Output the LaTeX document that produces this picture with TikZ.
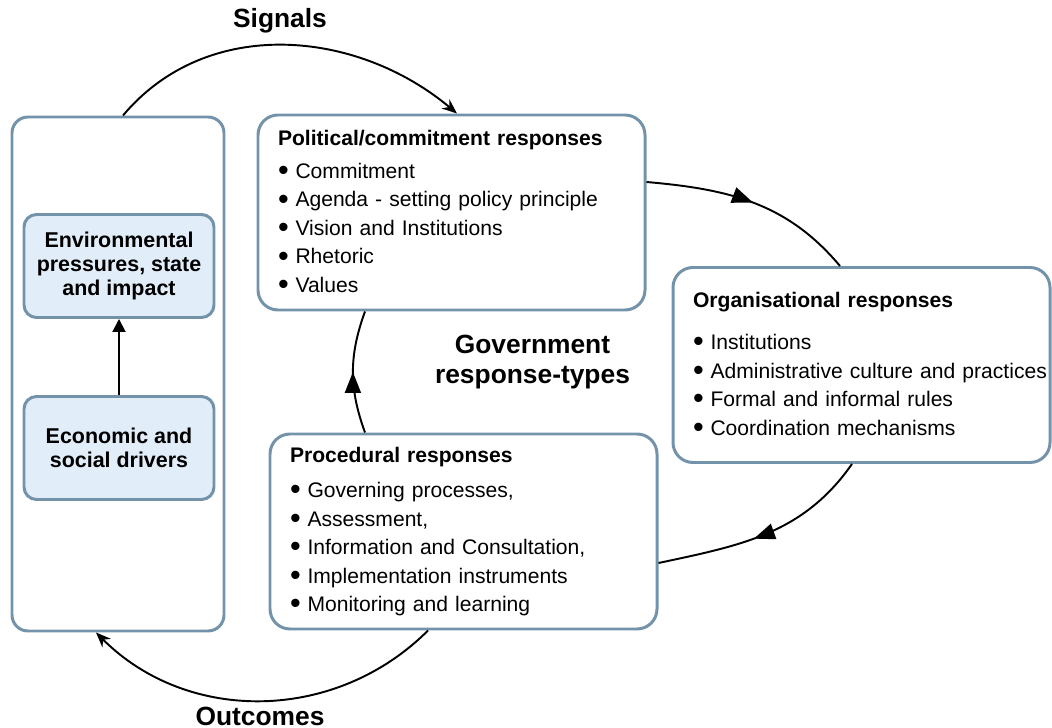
\documentclass[tikz,border=0pt]{standalone}
\usepackage{fontspec}
\setmainfont{Liberation Sans}
\usepackage{xcolor}
\usetikzlibrary{arrows.meta, decorations.markings}

\definecolor{boxline}{RGB}{115,147,171}
\definecolor{boxfill}{RGB}{225,237,248}

% bullet for the list items
\newcommand{\bul}{\makebox[0.35cm][l]{\raisebox{-0.2ex}{\scalebox{1.45}{\textbullet}}}}

\begin{document}
\begin{tikzpicture}[
    outerbox/.style={rectangle, rounded corners=0.32cm, draw=boxline, line width=1.7pt, minimum width=4.24cm, minimum height=10.28cm},
    drvbox/.style={rectangle, rounded corners=0.25cm, draw=boxline, fill=boxfill, line width=1.7pt, minimum width=3.8cm, minimum height=2.06cm, align=center, font=\fontsize{12.2}{13.6}\selectfont\bfseries},
    respbox/.style={rectangle, rounded corners=0.4cm, draw=boxline, line width=1.7pt, minimum height=3.9cm, inner xsep=0.4cm, align=left, font=\fontsize{12}{16.2}\selectfont},
    cyc/.style={line width=1.1pt, postaction={decorate}, decoration={markings, mark=at position #1 with {\arrow{Triangle[length=0.42cm, width=0.32cm]}}}},
    cyc/.default=0.5,
    feed/.style={-{Stealth[length=0.3cm, width=0.24cm]}, line width=1.1pt},
    title/.style={font=\fontsize{15}{17}\selectfont\bfseries, align=center}]
    \useasboundingbox (0,0) rectangle (21.04,-14.56);

    % drivers and state, left column
    \node[outerbox] (lb) at (2.36,-7.48) {};
    \node[drvbox] (env) at (2.38,-5.32) {Environmental\\pressures, state\\and impact};
    \node[drvbox] (eco) at (2.38,-8.96) {Economic and\\social drivers};
    \draw[-{Triangle[length=0.26cm, width=0.26cm]}, line width=1.1pt] (eco) -- (env);

    % the three response types
    \node[respbox, text width=6.94cm] (pol) at (9.03,-4.25) {\textbf{Political/commitment responses}\\[2.5pt]
        \bul Commitment\\
        \bul Agenda - setting policy principle\\
        \bul Vision and Institutions\\
        \bul Rhetoric\\
        \bul Values};
    \node[respbox, text width=6.74cm] (org) at (17.23,-7.3) {\textbf{Organisational responses}\\[7.5pt]
        \bul Institutions\\
        \mbox{\bul Administrative culture and practices}\\
        \bul Formal and informal rules\\
        \bul Coordination mechanisms};
    \node[respbox, text width=6.94cm] (proc) at (9.27,-10.63) {\textbf{Procedural responses}\\[4pt]
        \bul Governing processes,\\
        \bul Assessment,\\
        \bul Information and Consultation,\\
        \bul Implementation instruments\\
        \bul Monitoring and learning};

    \node[title] (gov) at (10.65,-7.24) {Government\\response-types};
    \node[title] (sig) at (5.6,-0.42) {Signals};
    \node[title] (outc) at (5.2,-14.32) {Outcomes};

    % response cycle
    \draw[cyc] ([yshift=0.61cm]pol.east) to[out=-5, in=130] ([xshift=-0.43cm]org.north);
    \draw[cyc=0.56] ([xshift=-0.19cm]org.south) to[out=-125, in=12] ([yshift=-0.63cm]proc.east);
    \draw[cyc] ([xshift=-1.97cm]proc.north) to[out=110, in=-110] ([xshift=-1.73cm]pol.south);

    % signals and outcomes
    \draw[feed] ([xshift=0.1cm]lb.north) to[out=50, in=140] ([xshift=0.11cm]pol.north);
    \draw[feed] ([xshift=-0.71cm]proc.south) to[out=-135, in=-45] ([xshift=-0.44cm]lb.south);
\end{tikzpicture}
\end{document}
